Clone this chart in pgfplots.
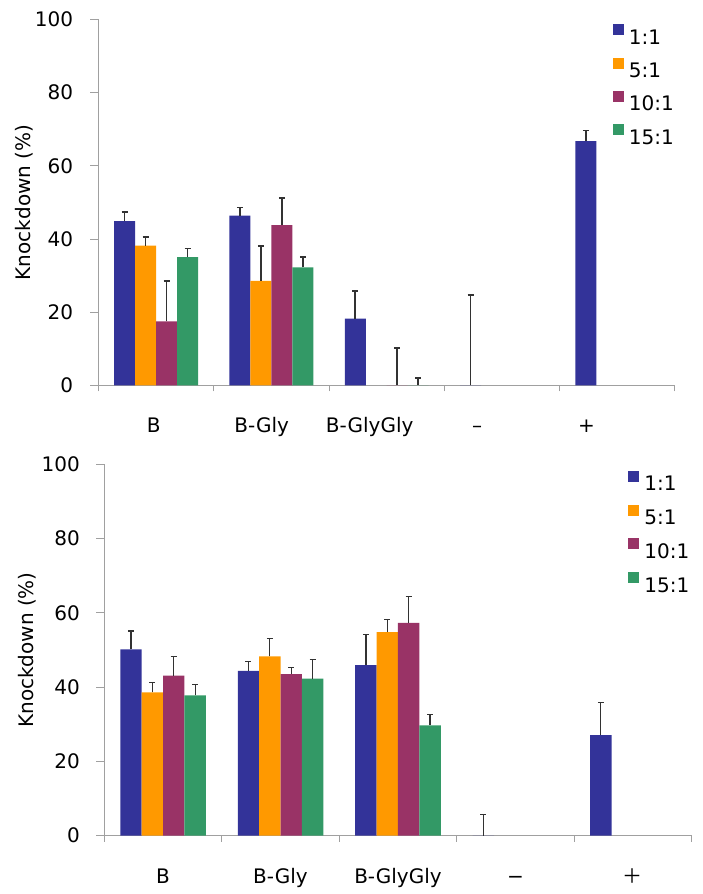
\documentclass[border=0pt]{standalone}
\usepackage{pgfplots}
\pgfplotsset{compat=1.18}
\usepackage{fontspec}
\setmainfont{DejaVu Sans}
\newfontfamily\cjk{Noto Sans CJK JP}
\definecolor{c1}{RGB}{51,51,153}
\definecolor{c2}{RGB}{255,153,0}
\definecolor{c3}{RGB}{153,51,102}
\definecolor{c4}{RGB}{51,153,102}
\definecolor{axgray}{RGB}{160,160,160}
\definecolor{errgray}{RGB}{50,50,50}

\pgfplotsset{
  kdbase/.style={
    scale only axis,
    anchor=south west,
    xmin=-0.5, xmax=4.5, ymin=0, ymax=100,
    axis x line*=bottom, axis y line*=left,
    axis line style={axgray, line width=0.5pt},
    ytick={0,20,40,60,80,100},
    minor xtick={-0.5,0.5,1.5,2.5,3.5,4.5},
    tick align=inside,
    major tick length=4pt,
    minor tick length=3pt,
    major x tick style={draw=none},
    minor x tick style={axgray, line width=0.5pt},
    major y tick style={axgray, line width=0.5pt, xshift=-4pt},
    /pgf/number format/assume math mode=true,
    tick label style={font=\fontsize{10}{12}\selectfont},
    label style={font=\fontsize{10}{12}\selectfont},
    xticklabel style={anchor=base, inner sep=0pt, yshift=-19.75pt},
    ylabel={Knockdown (\%)},
    ybar=0pt, bar width=0.182,
    every axis plot/.append style={draw=none},
    legend image code/.code={\fill[##1] (0pt,0.9pt) rectangle (5.5pt,6.4pt);},
    legend cell align=left,
    legend style={draw=none, fill=none, inner sep=0pt, column sep=1.2pt,
      font=\fontsize{10}{12}\selectfont,
      nodes={inner sep=1.5pt, text height=7.3pt, text depth=0pt}},
  },
  err/.style={error bars/.cd, y dir=plus, y explicit,
    error bar style={errgray, line width=#1},
    error mark options={rotate=90, mark size=1.5pt, errgray, line width=#1}},
}

\pgfplotstableread{
x y e
0 44.9 2.5
1 46.4 2.2
2 18.3 7.6
3 0 24.8
4 66.8 2.9
}\topA
\pgfplotstableread{
x y e
0 38.2 2.4
1 28.6 9.5
}\topB
\pgfplotstableread{
x y e
0 17.5 11.0
1 43.8 7.5
2 0 10.3
}\topC
\pgfplotstableread{
x y e
0 35.1 2.3
1 32.3 2.8
2 0 2.1
}\topD

\pgfplotstableread{
x y e
0 50.2 4.9
1 44.4 2.5
2 45.9 8.3
3 0 5.8
4 27.1 8.7
}\botA
\pgfplotstableread{
x y e
0 38.6 2.6
1 48.3 4.8
2 54.8 3.5
}\botB
\pgfplotstableread{
x y e
0 43.1 5.1
1 43.5 1.8
2 57.3 7.1
}\botC
\pgfplotstableread{
x y e
0 37.8 3.0
1 42.3 5.2
2 29.7 3.0
}\botD

\begin{document}
\begin{tikzpicture}
% top chart
\begin{axis}[kdbase,
  at={(49.25pt,254.25pt)}, width=288.25pt, height=183pt,
  xtick={-0.02,0.915,1.852,2.783,3.732},
  xticklabels={B,B-Gly,B-GlyGly,–,+},
  yticklabel style={anchor=east, inner sep=0pt, xshift=-12.5pt},
  every axis y label/.style={at={(axis description cs:-0.1292,0.5)}, rotate=90, anchor=center},
  legend style={at={(axis description cs:0.891,0.988)}, anchor=north west, row sep=5.1pt},
]
\addplot[fill=c1, err=0.8pt] table[x=x, y=y, y error=e] {\topA};
\addplot[fill=c2, err=0.8pt] table[x=x, y=y, y error=e] {\topB};
\addplot[fill=c3, err=0.8pt] table[x=x, y=y, y error=e] {\topC};
\addplot[fill=c4, err=0.8pt] table[x=x, y=y, y error=e] {\topD};
\legend{1:1,5:1,10:1,15:1}
\end{axis}
% bottom chart
\begin{axis}[kdbase,
  at={(52.15pt,29.15pt)}, width=293.7pt, height=185.7pt,
  xtick={0,1,2,3,4},
  xticklabels={B,B-Gly,B-GlyGly,−,{\cjk ＋}},
  yticklabel style={anchor=east, inner sep=0pt, xshift=-12pt},
  every axis y label/.style={at={(axis description cs:-0.1307,0.5)}, rotate=90, anchor=center},
  legend style={at={(axis description cs:0.891,0.984)}, anchor=north west, row sep=5.4pt},
]
\addplot[fill=c1, err=0.6pt] table[x=x, y=y, y error=e] {\botA};
\addplot[fill=c2, err=0.6pt] table[x=x, y=y, y error=e] {\botB};
\addplot[fill=c3, err=0.6pt] table[x=x, y=y, y error=e] {\botC};
\addplot[fill=c4, err=0.6pt] table[x=x, y=y, y error=e] {\botD};
\legend{1:1,5:1,10:1,15:1}
\end{axis}
\pgfresetboundingbox
\path[use as bounding box] (0,0) rectangle (351pt,447pt);
\end{tikzpicture}
\end{document}
